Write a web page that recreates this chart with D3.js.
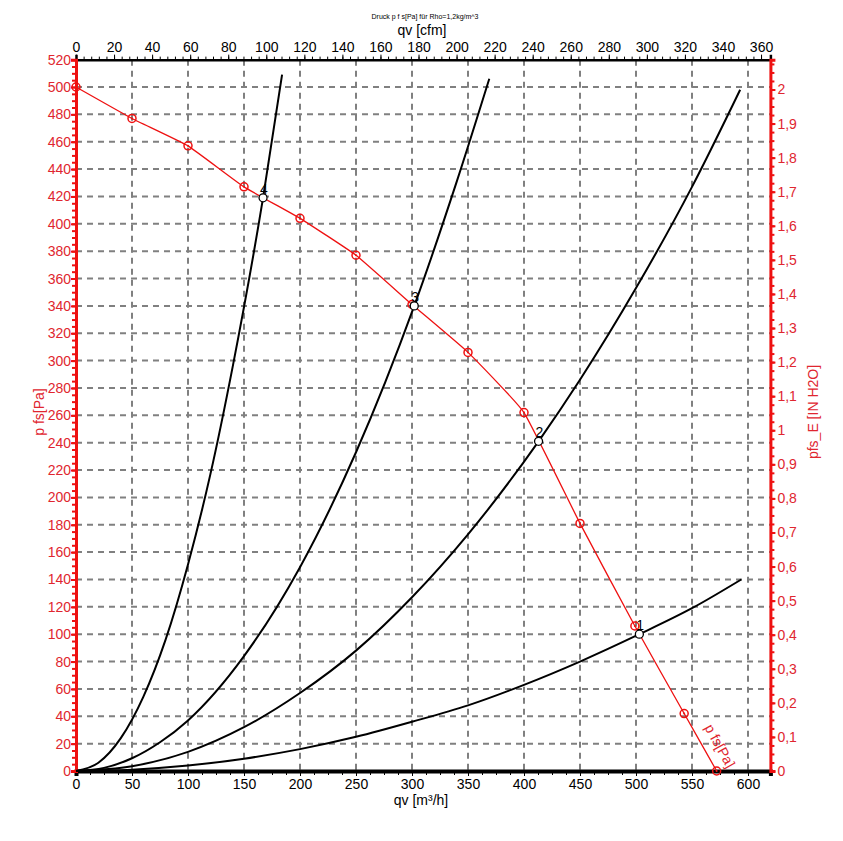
<!DOCTYPE html>
<html>
<head>
<meta charset="utf-8">
<script src="https://cdn.jsdelivr.net/npm/d3@7"></script>
<style>
  body { margin: 0; background: #fff; }
  text { font-family: "Liberation Sans", Arial, sans-serif; }
</style>
</head>
<body>
<div class="container"></div>
<script>
// fan curve p fs [Pa] over qv [m3/h]
var fanQ  = [0, 50, 100, 150, 200, 250, 300, 350, 400, 450, 499, 543, 572];
var fanP  = [500, 477, 457, 427, 404, 377, 341, 306, 262, 181, 106, 42, 0];

// system curves (black)
var sys1Q = [0, 50, 100, 150, 200, 250, 300, 350, 400, 450, 503, 550, 594];
var sys1P = [0, 1, 4, 9, 16, 25, 36, 48, 63, 80, 100, 119, 140];
var sys2Q = [0, 50, 100, 150, 200, 250, 300, 350, 413, 450, 500, 550, 593];
var sys2P = [0, 3.5, 14, 32, 57, 88, 127, 173, 241, 286, 353, 427, 498];
var sys3Q = [0, 25, 50, 75, 100, 150, 200, 250, 302, 340, 369];
var sys3P = [0, 2.3, 9.3, 21, 37, 84, 149, 233, 340, 431, 506];
var sys4Q = [0, 20, 40, 60, 80, 100, 120, 140, 167, 184];
var sys4P = [0, 6, 24, 54, 96, 151, 217, 296, 419, 509];

// operating points
var opLabels = ["1", "2", "3", "4"];
var opQ = [503, 413, 302, 167];
var opP = [100, 241, 340, 419];

// ticks
var qTicks   = [0, 50, 100, 150, 200, 250, 300, 350, 400, 450, 500, 550, 600];
var cfmTicks = [0, 20, 40, 60, 80, 100, 120, 140, 160, 180, 200, 220, 240, 260, 280, 300, 320, 340, 360];
var pTicks   = [0, 20, 40, 60, 80, 100, 120, 140, 160, 180, 200, 220, 240, 260, 280, 300, 320, 340, 360, 380, 400, 420, 440, 460, 480, 500, 520];
var inTicks  = [0, 0.1, 0.2, 0.3, 0.4, 0.5, 0.6, 0.7, 0.8, 0.9, 1, 1.1, 1.2, 1.3, 1.4, 1.5, 1.6, 1.7, 1.8, 1.9, 2];

var w = 843, h = 841;
var red = "#ee1111";
var redText = "#e0262f";

var svg = d3.select(".container").append("svg")
    .attr("width", w).attr("height", h);

var x = d3.scaleLinear().domain([0, 620]).range([76, 76 + 620 * 1.12]);
var y = d3.scaleLinear().domain([0, 520]).range([771, 771 - 520 * 1.368]);
var xCfm = d3.scaleLinear().domain([0, 620 / 1.699]).range(x.range());
var yIn = d3.scaleLinear().domain([0, 520 / 249.09]).range(y.range());

var pLeft = x(0), pRight = x(620), pTop = y(520), pBottom = y(0);

function minorTicks(a, b, step) {
    var out = [];
    for (var v = a; v <= b + 1e-9; v += step) out.push(+v.toFixed(4));
    return out;
}

// grid
svg.append("g").selectAll("line")
    .data(qTicks.filter(function(d){ return d > 0; }))
    .enter().append("line")
    .attr("x1", function(d){ return x(d); }).attr("x2", function(d){ return x(d); })
    .attr("y1", pTop).attr("y2", pBottom)
    .attr("stroke", "#808080").attr("stroke-width", 2)
    .attr("stroke-dasharray", "6,5");

svg.append("g").selectAll("line")
    .data(pTicks.filter(function(d){ return d > 0 && d < 520; }))
    .enter().append("line")
    .attr("x1", pLeft).attr("x2", pRight)
    .attr("y1", function(d){ return y(d); }).attr("y2", function(d){ return y(d); })
    .attr("stroke", "#808080").attr("stroke-width", 2)
    .attr("stroke-dasharray", "6,5");

// bottom axis
var gB = svg.append("g").attr("transform", "translate(0," + pBottom + ")")
    .call(d3.axisBottom(x).tickValues(qTicks).tickSize(5).tickFormat(d3.format("d")));
svg.append("g").attr("transform", "translate(0," + pBottom + ")")
    .call(d3.axisBottom(x).tickValues(minorTicks(0, 600, 12.5)).tickSize(4).tickFormat(""))
    .select(".domain").remove();

// top axis
var gT = svg.append("g").attr("transform", "translate(0," + pTop + ")")
    .call(d3.axisTop(xCfm).tickValues(cfmTicks).tickSize(5).tickFormat(d3.format("d")));
svg.append("g").attr("transform", "translate(0," + pTop + ")")
    .call(d3.axisTop(xCfm).tickValues(minorTicks(0, 360, 4)).tickSize(3).tickFormat(""))
    .select(".domain").remove();

// left axis
var gL = svg.append("g").attr("transform", "translate(" + pLeft + ",0)")
    .call(d3.axisLeft(y).tickValues(pTicks).tickSize(5).tickFormat(d3.format("d")));
var gLm = svg.append("g").attr("transform", "translate(" + pLeft + ",0)")
    .call(d3.axisLeft(y).tickValues(minorTicks(0, 520, 5)).tickSize(4).tickFormat(""));
gLm.select(".domain").remove();

// right axis
var gR = svg.append("g").attr("transform", "translate(" + pRight + ",0)")
    .call(d3.axisRight(yIn).tickValues(inTicks).tickSize(5)
        .tickFormat(function(d){ return String(+d.toFixed(1)).replace(".", ","); }));
var gRm = svg.append("g").attr("transform", "translate(" + pRight + ",0)")
    .call(d3.axisRight(yIn).tickValues(minorTicks(0, 2.075, 0.025)).tickSize(4).tickFormat(""));
gRm.select(".domain").remove();

[gB, gT].forEach(function(g){
    g.selectAll("text").attr("font-size", "14px").attr("fill", "#000")
        .style("font-family", "Liberation Sans, Arial, sans-serif");
});
gT.select(".domain").attr("stroke-width", 2.5);
gB.select(".domain").attr("stroke-width", 4);
[gL, gR, gLm, gRm].forEach(function(g){
    g.select(".domain").attr("stroke", red).attr("stroke-width", 3);
    g.selectAll(".tick line").attr("stroke", red).attr("stroke-width", 2);
    g.selectAll("text").attr("font-size", "14px").attr("fill", redText)
        .style("font-family", "Liberation Sans, Arial, sans-serif");
});
gR.selectAll("text").attr("x", 7);
gL.selectAll("text").attr("x", -5);

// system curves
var line = d3.line()
    .x(function(d){ return x(d[0]); })
    .y(function(d){ return y(d[1]); })
    .curve(d3.curveMonotoneX);

[[sys1Q, sys1P], [sys2Q, sys2P], [sys3Q, sys3P], [sys4Q, sys4P]].forEach(function(s){
    svg.append("path")
        .datum(d3.zip(s[0], s[1]))
        .attr("d", line)
        .attr("fill", "none")
        .attr("stroke", "#000")
        .attr("stroke-width", 2);
});

// fan curve
var fanData = d3.zip(fanQ, fanP);
svg.append("path")
    .datum(fanData)
    .attr("d", d3.line()
        .x(function(d){ return x(d[0]); })
        .y(function(d){ return y(d[1]); })
        .curve(d3.curveCardinal.tension(0.65)))
    .attr("fill", "none")
    .attr("stroke", red)
    .attr("stroke-width", 1.3);

svg.selectAll(".fanpt")
    .data(fanData)
    .enter().append("circle")
    .attr("cx", function(d){ return x(d[0]); })
    .attr("cy", function(d){ return y(d[1]); })
    .attr("r", 4)
    .attr("fill", "none")
    .attr("stroke", red)
    .attr("stroke-width", 1.5);

svg.selectAll(".fandot")
    .data(fanData)
    .enter().append("circle")
    .attr("cx", function(d){ return x(d[0]); })
    .attr("cy", function(d){ return y(d[1]); })
    .attr("r", 1)
    .attr("fill", red);

// operating points
var ops = d3.zip(opQ, opP, opLabels);
svg.selectAll(".op")
    .data(ops)
    .enter().append("circle")
    .attr("cx", function(d){ return x(d[0]); })
    .attr("cy", function(d){ return y(d[1]); })
    .attr("r", 4)
    .attr("fill", "#fff")
    .attr("stroke", "#000")
    .attr("stroke-width", 1.3);

svg.selectAll(".oplab")
    .data(ops)
    .enter().append("text")
    .attr("x", function(d){ return x(d[0]) - 3; })
    .attr("y", function(d){ return y(d[1]) - 4; })
    .attr("font-size", "14px")
    .attr("fill", "#000")
    .text(function(d){ return d[2]; });

// texts
svg.append("text")
    .attr("x", 425).attr("y", 19)
    .attr("text-anchor", "middle")
    .attr("font-size", "7px")
    .text("Druck p f s[Pa] für Rho=1,2kg/m^3");

svg.append("text")
    .attr("x", 422).attr("y", 35)
    .attr("text-anchor", "middle")
    .attr("font-size", "14px")
    .text("qv [cfm]");

svg.append("text")
    .attr("x", 421).attr("y", 805)
    .attr("text-anchor", "middle")
    .attr("font-size", "14px")
    .text("qv [m³/h]");

svg.append("text")
    .attr("text-anchor", "middle")
    .attr("font-size", "14px")
    .attr("fill", redText)
    .attr("transform", "translate(44,412)rotate(-90)")
    .text("p fs[Pa]");

svg.append("text")
    .attr("text-anchor", "middle")
    .attr("font-size", "14px")
    .attr("fill", redText)
    .attr("transform", "translate(818,412)rotate(-90)")
    .text("pfs_E [IN H2O]");

svg.append("text")
    .attr("font-size", "14px")
    .attr("fill", redText)
    .attr("transform", "translate(" + (x(543) + 20) + "," + (y(42) + 14) + ")rotate(61)")
    .text("p fs[Pa]");
</script>
</body>
</html>
